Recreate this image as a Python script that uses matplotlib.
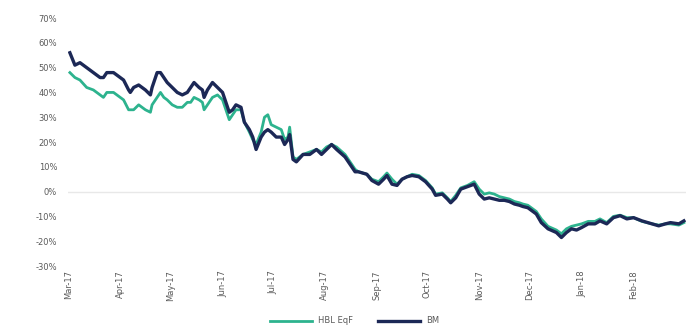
import datetime as dt

import matplotlib
matplotlib.use('Agg')
import matplotlib.pyplot as plt
import matplotlib.dates as mdates
from matplotlib.ticker import FuncFormatter

# days after 1 Mar 2017
days = [1, 4, 7, 11, 15, 19, 21, 23, 27, 31, 33, 36, 37, 39, 42, 46, 49, 50, 53, 55,
        57, 59, 62, 65, 68, 71, 73, 75, 78, 80, 81, 83, 86, 89, 92, 94, 96, 98, 100, 103,
        105, 108, 110, 112, 115, 117, 119, 121, 124, 127, 129, 131, 132, 134, 136, 140, 144, 148, 151, 154,
        157, 160, 165, 168, 171, 173, 178, 181, 185, 188, 190, 193, 196, 199, 202, 205, 209, 213, 217, 219,
        223, 226, 228, 231, 234, 238, 242, 245, 248, 251, 254, 257, 260, 263, 266, 269, 271, 274, 277, 279,
        282, 286, 291, 294, 297, 300, 303, 306, 310, 314, 317, 321, 325, 329, 333, 337, 342, 348, 352, 356,
        359, 364, 367]

bm = [56, 51, 52, 50, 48, 46, 46, 48, 48, 46, 45, 41, 40, 42, 43, 41, 39, 42, 48, 48,
      46, 44, 42, 40, 39, 40, 42, 44, 42, 41, 38, 41, 44, 42, 40, 36, 32, 33, 35, 34,
      28, 25, 22, 17, 22, 24, 25, 24, 22, 22, 19, 21, 23, 13, 12, 15, 15, 17, 15, 17,
      19, 17, 14, 11, 8, 8, 7, 4.5, 3, 5, 6.5, 3, 2.5, 5, 6, 6.5, 6, 4, 1, -1.5,
      -1, -3, -4.5, -2.5, 1, 2, 3, -1, -3, -2.5, -3, -3.5, -3.5, -4, -5, -5.5, -6, -6.5, -8, -9,
      -12.5, -15, -16.5, -18.5, -16.5, -15, -15.5, -14.5, -13, -13, -11.8, -13, -10.5, -9.7, -11, -10.5, -11.8, -13, -13.8, -13,
      -12.5, -13, -11.8]

hbl = [48, 46, 45, 42, 41, 39, 38, 40, 40, 38, 37, 33, 33, 33, 35, 33, 32, 35, 38, 40,
       38, 37, 35, 34, 34, 36, 36, 38, 37, 36, 33, 35, 38, 39, 37, 33, 29, 31, 33, 33,
       28, 24, 21, 19, 24, 30, 31, 27, 26, 25, 21, 22, 26, 14, 13, 15, 16, 17, 16, 18,
       19, 18, 15, 12, 9, 8, 7, 5, 4, 6, 7.5, 5, 3, 5, 6, 7, 6.5, 4.5, 1.5, -1,
       -0.5, -2.5, -4, -1.5, 1.5, 2.5, 4, 1, -1, -0.5, -1, -2, -2.5, -3, -4, -4.5, -5, -5.5, -7, -8,
       -11, -14, -15.5, -17, -15, -14, -13.5, -13, -12, -12, -11, -12.5, -10, -9.5, -10.5, -10.5, -12, -13, -13.5, -13,
       -13, -13.5, -12.5]

start = dt.datetime(2017, 3, 1)
dates = [start + dt.timedelta(days=d) for d in days]
months = [dt.datetime(2017 + (2 + i) // 12, (2 + i) % 12 + 1, 1) for i in range(12)]

green = '#2db38e'
navy = '#1c2856'

fig = plt.figure(figsize=(6.89, 3.28), dpi=100)
ax = fig.add_axes([0.099, 0.189, 0.896, 0.756])

ax.axhline(0, color='#e8e8e8', lw=1, zorder=0)
ax.plot(dates, hbl, color=green, lw=2.0, label='HBL EqF')
ax.plot(dates, bm, color=navy, lw=2.4, label='BM')

ax.set_ylim(-30, 70)
ax.set_yticks(range(-30, 71, 10))
ax.yaxis.set_major_formatter(FuncFormatter(lambda v, p: f'{int(v)}%'))
ax.set_xlim(start, start + dt.timedelta(days=368))
ax.set_xticks(months)
ax.xaxis.set_major_formatter(mdates.DateFormatter('%b-%y'))

for s in ax.spines.values():
    s.set_visible(False)
ax.tick_params(axis='both', length=0, labelsize=6, colors='#5a5a5a')
ax.tick_params(axis='x', rotation=90, pad=3)
ax.tick_params(axis='y', pad=8)

fig.legend(loc='lower center', ncol=2, bbox_to_anchor=(0.515, -0.015), frameon=False,
           fontsize=6, handlelength=5, columnspacing=3, labelcolor='#5a5a5a')

fig.savefig('out.png', dpi=100)
